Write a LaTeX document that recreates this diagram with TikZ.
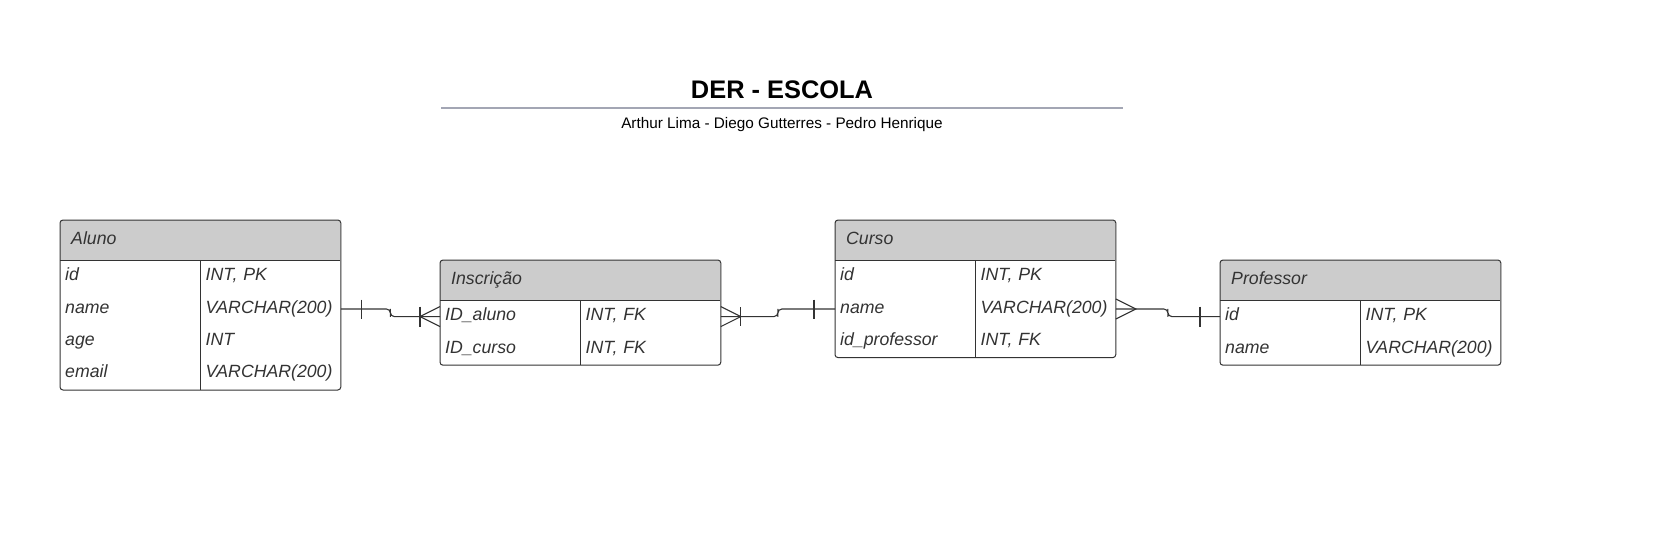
\documentclass[tikz,border=0pt]{standalone}
\usepackage{fontspec}
\setmainfont{Liberation Sans}
\usetikzlibrary{positioning,calc,backgrounds}
\definecolor{inkgray}{HTML}{333333}
\definecolor{headgray}{HTML}{CCCCCC}
\definecolor{rulegray}{HTML}{A3A6B4}
\tikzset{
  cell/.style={font=\itshape\fontsize{17.7pt}{21pt}\selectfont, text=inkgray,
    text width=130pt, inner xsep=5pt, inner ysep=0pt, minimum height=32pt,
    text height=12.7pt, text depth=4.7pt, align=left},
  head/.style={cell, text width=258pt, inner xsep=11pt, minimum height=40pt,
    anchor=north west},
  entity/.style={draw=inkgray, line width=1pt, rounded corners=3pt},
  grid/.style={draw=inkgray, line width=1pt},
  rel/.style={draw=inkgray, line width=1.1pt},
  title/.style={font=\bfseries\fontsize{25.4pt}{30pt}\selectfont, anchor=base},
  authors/.style={font=\fontsize{15.3pt}{18pt}\selectfont, anchor=base}
}
\begin{document}
\begin{tikzpicture}[x=1pt, y=-1pt]
      \useasboundingbox (0,0) rectangle (1660,551);
      % title
      \node[title] (title) at (782,99) {DER - ESCOLA};
      \draw[rulegray, line width=2pt] (441,108) -- (1123,108);
      \node[authors] (names) at (782,128) {Arthur Lima - Diego Gutterres - Pedro Henrique};
      % Aluno
      \node[head] (aluno-h) at (60,220) {Aluno};
      \node[cell, anchor=north west] (aluno-id-k) at (aluno-h.south west) {id};
      \node[cell, below=0pt of aluno-id-k] (aluno-name-k) {name};
      \node[cell, below=0pt of aluno-name-k] (aluno-age-k) {age};
      \node[cell, below=0pt of aluno-age-k] (aluno-email-k) {email};
      \node[cell, right=0pt of aluno-id-k] (aluno-id-t) {INT, PK};
      \node[cell, right=0pt of aluno-name-k] (aluno-name-t) {VARCHAR(200)};
      \node[cell, right=0pt of aluno-age-k] (aluno-age-t) {INT};
      \node[cell, right=0pt of aluno-email-k] (aluno-email-t) {VARCHAR(200)};
      % Inscricao
      \node[head] (insc-h) at (440,260) {Inscrição};
      \node[cell, anchor=north west] (insc-aluno-k) at (insc-h.south west) {ID\_aluno};
      \node[cell, below=0pt of insc-aluno-k] (insc-curso-k) {ID\_curso};
      \node[cell, right=0pt of insc-aluno-k] (insc-aluno-t) {INT, FK};
      \node[cell, right=0pt of insc-curso-k] (insc-curso-t) {INT, FK};
      % Curso
      \node[head] (curso-h) at (835,220) {Curso};
      \node[cell, anchor=north west] (curso-id-k) at (curso-h.south west) {id};
      \node[cell, below=0pt of curso-id-k] (curso-name-k) {name};
      \node[cell, below=0pt of curso-name-k] (curso-prof-k) {id\_professor};
      \node[cell, right=0pt of curso-id-k] (curso-id-t) {INT, PK};
      \node[cell, right=0pt of curso-name-k] (curso-name-t) {VARCHAR(200)};
      \node[cell, right=0pt of curso-prof-k] (curso-prof-t) {INT, FK};
      % Professor
      \node[head] (prof-h) at (1220,260) {Professor};
      \node[cell, anchor=north west] (prof-id-k) at (prof-h.south west) {id};
      \node[cell, below=0pt of prof-id-k] (prof-name-k) {name};
      \node[cell, right=0pt of prof-id-k] (prof-id-t) {INT, PK};
      \node[cell, right=0pt of prof-name-k] (prof-name-t) {VARCHAR(200)};
      % header fills
      \begin{scope}[on background layer]
        \fill[white] (0,0) rectangle (1660,551);
        \foreach \t/\b in {aluno/aluno-email-t, insc/insc-curso-t, curso/curso-prof-t, prof/prof-name-t} {
          \begin{scope}
            \clip[rounded corners=3pt] (\t-h.north west) rectangle (\b.south east);
            \fill[headgray] (\t-h.north west) rectangle (\t-h.south east);
          \end{scope}
        }
      \end{scope}
      % outlines
      \foreach \t/\f/\b in {aluno/aluno-id-t/aluno-email-t, insc/insc-aluno-t/insc-curso-t,
                            curso/curso-id-t/curso-prof-t, prof/prof-id-t/prof-name-t} {
        \draw[entity] (\t-h.north west) rectangle (\b.south east);
        \draw[grid] (\t-h.south west) -- (\t-h.south east);
        \draw[grid] (\f.north west) -- (\b.south west);
      }
      % relations
      \begin{scope}[rel, rounded corners=4pt]
        \draw (aluno-name-t.east) -| ($(aluno-name-t.east)!.5!(insc-aluno-k.west)$) |- (insc-aluno-k.west);
        \draw (insc-aluno-t.east) -| ($(insc-aluno-t.east)!.5!(curso-name-k.west)$) |- (curso-name-k.west);
        \draw (curso-name-t.east) -| ($(curso-name-t.east)!.5!(prof-id-k.west)$) |- (prof-id-k.west);
      \end{scope}
      \begin{scope}[rel]
        % Aluno 1 -- N Inscricao
        \draw ([xshift=21pt]aluno-name-t.east) ++(0,-9.5) -- ++(0,19);
        \draw ([xshift=-20pt]insc-aluno-k.west) ++(0,-10) -- ++(0,20);
        \draw ([yshift=10pt]insc-aluno-k.west) -- ([xshift=-20pt]insc-aluno-k.west) -- ([yshift=-10pt]insc-aluno-k.west);
        % Inscricao N -- 1 Curso
        \draw ([xshift=20pt]insc-aluno-t.east) ++(0,-9.5) -- ++(0,19);
        \draw ([yshift=10pt]insc-aluno-t.east) -- ([xshift=20pt]insc-aluno-t.east) -- ([yshift=-10pt]insc-aluno-t.east);
        \draw ([xshift=-21pt]curso-name-k.west) ++(0,-9.5) -- ++(0,19);
        % Curso N -- 1 Professor
        \draw ([yshift=10pt]curso-name-t.east) -- ([xshift=20pt]curso-name-t.east) -- ([yshift=-10pt]curso-name-t.east);
        \draw ([xshift=-20pt]prof-id-k.west) ++(0,-10) -- ++(0,20);
      \end{scope}
    \end{tikzpicture}
\end{document}
